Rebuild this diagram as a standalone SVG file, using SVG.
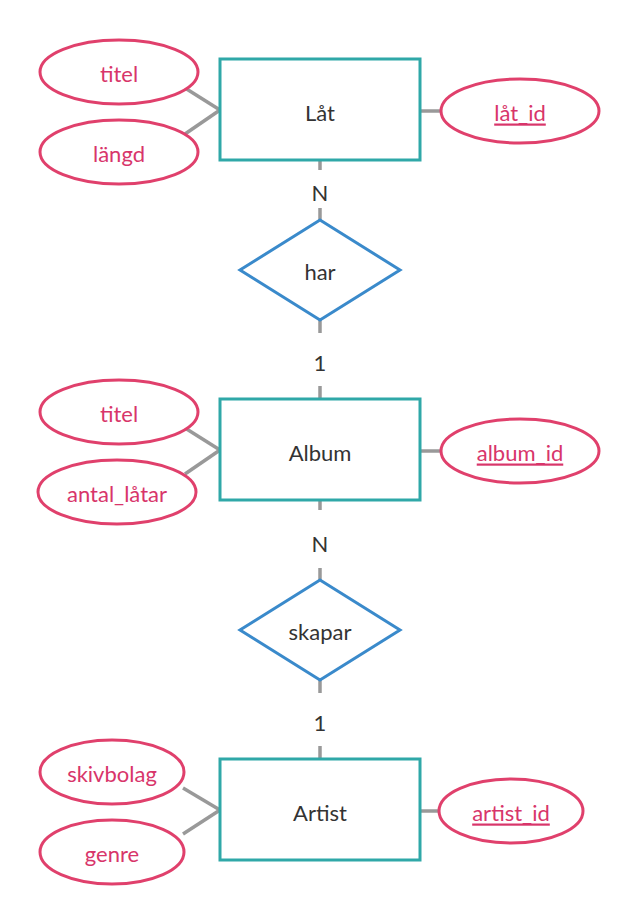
<svg xmlns="http://www.w3.org/2000/svg" width="640" height="920" viewBox="0 0 640 920">
<style>
text{font-family:Lato,"Liberation Sans",sans-serif;font-size:22px;text-anchor:middle;dominant-baseline:central}
.e ellipse{fill:#fff;stroke:#e0406c;stroke-width:3}
.e text{fill:#d8356a}
.k text{text-decoration:underline}
.r rect{fill:#fff;stroke:#2fa8a8;stroke-width:3}
.r text,.d text,.c text{fill:#333}
.d polygon{fill:#fff;stroke:#3a8acb;stroke-width:3}
.c line{stroke:#999;stroke-width:3.5}
</style>
<rect width="640" height="920" fill="#fff"/>
<g id="connectors" class="c">
<line x1="185" y1="88" x2="220" y2="110"/><line x1="185" y1="134" x2="220" y2="110"/><line x1="420" y1="111" x2="440" y2="111"/>
<line x1="320" y1="160" x2="320" y2="170"/><line x1="320" y1="208" x2="320" y2="220"/><line x1="320" y1="320" x2="320" y2="333"/><line x1="320" y1="386" x2="320" y2="398"/>
<line x1="185" y1="428" x2="220" y2="450"/><line x1="185" y1="474" x2="220" y2="450"/><line x1="420" y1="451" x2="440" y2="451"/>
<line x1="320" y1="500" x2="320" y2="510"/><line x1="320" y1="568" x2="320" y2="580"/><line x1="320" y1="680" x2="320" y2="693"/><line x1="320" y1="746" x2="320" y2="758"/>
<line x1="183" y1="788" x2="220" y2="810"/><line x1="183" y1="834" x2="220" y2="810"/><line x1="420" y1="811" x2="440" y2="811"/>
<text x="320" y="192">N</text><text x="320" y="362">1</text><text x="320" y="543">N</text><text x="320" y="722">1</text>
</g>
<g id="lat" class="r"><rect x="220" y="59" width="200" height="101"/><text x="320" y="112">Låt</text></g>
<g id="lat_titel" class="e"><ellipse cx="119" cy="72" rx="79" ry="32"/><text x="119" y="73">titel</text></g>
<g id="langd" class="e"><ellipse cx="119" cy="152" rx="79" ry="32"/><text x="119" y="153">längd</text></g>
<g id="lat_id" class="e k"><ellipse cx="520" cy="111" rx="79" ry="32"/><text x="520" y="112">låt_id</text></g>
<g id="har" class="d"><polygon points="320,220 400,270 320,320 240,270"/><text x="320" y="271">har</text></g>
<g id="album" class="r"><rect x="220" y="399" width="200" height="101"/><text x="320" y="452">Album</text></g>
<g id="album_titel" class="e"><ellipse cx="119" cy="412" rx="79" ry="32"/><text x="119" y="413">titel</text></g>
<g id="antal" class="e"><ellipse cx="117" cy="492" rx="79" ry="32"/><text x="117" y="493">antal_låtar</text></g>
<g id="album_id" class="e k"><ellipse cx="520" cy="451" rx="79" ry="32"/><text x="520" y="452">album_id</text></g>
<g id="skapar" class="d"><polygon points="320,580 400,630 320,680 240,630"/><text x="320" y="631">skapar</text></g>
<g id="artist" class="r"><rect x="220" y="759" width="200" height="101"/><text x="320" y="812">Artist</text></g>
<g id="skivbolag" class="e"><ellipse cx="112" cy="772" rx="72" ry="32"/><text x="112" y="773">skivbolag</text></g>
<g id="genre" class="e"><ellipse cx="112" cy="852" rx="72" ry="32"/><text x="112" y="853">genre</text></g>
<g id="artist_id" class="e k"><ellipse cx="511" cy="811" rx="72" ry="32"/><text x="511" y="812">artist_id</text></g>
</svg>
